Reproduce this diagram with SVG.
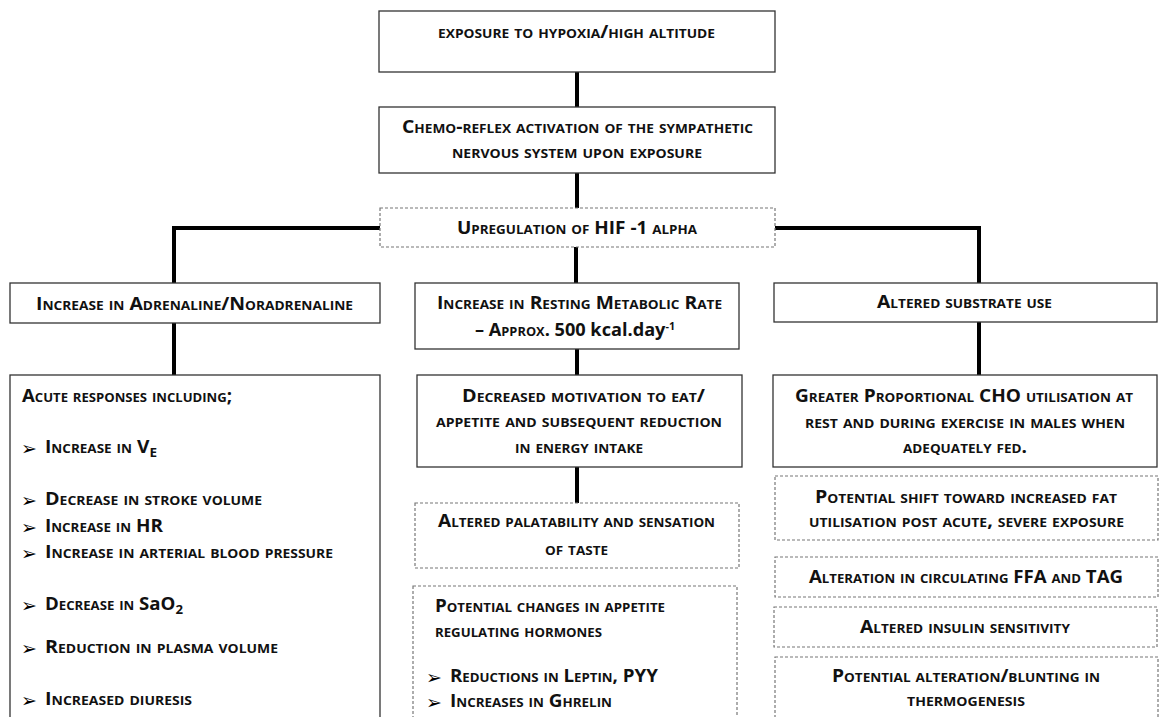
<svg xmlns="http://www.w3.org/2000/svg" width="1164" height="717" viewBox="0 0 1164 717">
<style>
.box{fill:#fff;stroke:#333;stroke-width:1.3}
.dbox{fill:#fff;stroke:#777;stroke-width:1.2;stroke-dasharray:3 2}
.conn{fill:none;stroke:#000;stroke-width:4}
text{font-family:"Open Sans","Liberation Sans",sans-serif;font-weight:bold;font-size:17px;fill:#111;font-variant:small-caps}
.c{text-anchor:middle}
.n{font-variant:normal}
.arr{font-family:"DejaVu Sans",sans-serif;font-size:19px;font-weight:bold;font-variant:normal;fill:#000}
</style>
<rect width="1164" height="717" fill="#fff"/>
<g id="connectors">
<path class="conn" d="M577 72V107"/>
<path class="conn" d="M577 173V208"/>
<path class="conn" d="M380 228H174V283"/>
<path class="conn" d="M576 247V283"/>
<path class="conn" d="M775 228H979V283"/>
<path class="conn" d="M174 323V375"/>
<path class="conn" d="M577 349V375"/>
<path class="conn" d="M979 322V375"/>
<path class="conn" d="M577 467V503"/>
</g>
<g id="n_exposure">
<rect class="box" x="379" y="11" width="396" height="61"/>
<text class="c" x="576.5" y="38" textLength="277" lengthAdjust="spacingAndGlyphs">exposure to hypoxia/high altitude</text>
</g>
<g id="n_chemo">
<rect class="box" x="379" y="107" width="396" height="66"/>
<text class="c" x="577.5" y="133" textLength="351" lengthAdjust="spacingAndGlyphs">Chemo-reflex activation of the sympathetic</text>
<text class="c" x="577" y="158" textLength="250" lengthAdjust="spacingAndGlyphs">nervous system upon exposure</text>
</g>
<g id="n_hif">
<rect class="dbox" x="380" y="208" width="395" height="39"/>
<text class="c" x="577" y="234" textLength="240" lengthAdjust="spacingAndGlyphs">Upregulation of HIF -1 alpha</text>
</g>
<g id="n_adrenaline">
<rect class="box" x="10" y="283" width="370" height="40"/>
<text class="c" x="194.5" y="310" textLength="317" lengthAdjust="spacingAndGlyphs">Increase in Adrenaline/Noradrenaline</text>
</g>
<g id="n_rmr">
<rect class="box" x="415" y="283" width="324" height="66"/>
<text class="c" x="579.5" y="309" textLength="285" lengthAdjust="spacingAndGlyphs">Increase in Resting Metabolic Rate</text>
<text x="475" y="336" textLength="200" lengthAdjust="spacingAndGlyphs">– Approx.<tspan class="n"> 500 kcal.day</tspan><tspan class="n" font-size="10" dy="-6">-1</tspan></text>
</g>
<g id="n_substrate">
<rect class="box" x="774" y="283" width="383" height="39"/>
<text class="c" x="964.5" y="308" textLength="175" lengthAdjust="spacingAndGlyphs">Altered substrate use</text>
</g>
<g id="n_acute">
<rect class="box" x="10" y="375" width="370" height="360"/>
<text x="22" y="402" textLength="210" lengthAdjust="spacingAndGlyphs">Acute responses including;</text>
<text class="arr" x="21" y="455">➢</text>
<text x="45" y="453" textLength="112" lengthAdjust="spacingAndGlyphs">Increase in V<tspan font-size="12" dy="4">E</tspan></text>
<text class="arr" x="21" y="507">➢</text>
<text x="45" y="505" textLength="217" lengthAdjust="spacingAndGlyphs">Decrease in stroke volume</text>
<text class="arr" x="21" y="534">➢</text>
<text x="45" y="532" textLength="118" lengthAdjust="spacingAndGlyphs">Increase in HR</text>
<text class="arr" x="21" y="560">➢</text>
<text x="45" y="558" textLength="288" lengthAdjust="spacingAndGlyphs">Increase in arterial blood pressure</text>
<text class="arr" x="21" y="612">➢</text>
<text x="45" y="610" textLength="138" lengthAdjust="spacingAndGlyphs">Decrease in <tspan class="n">SaO</tspan><tspan class="n" font-size="12" dy="4">2</tspan></text>
<text class="arr" x="21" y="655">➢</text>
<text x="45" y="653" textLength="233" lengthAdjust="spacingAndGlyphs">Reduction in plasma volume</text>
<text class="arr" x="21" y="707">➢</text>
<text x="45" y="705" textLength="147" lengthAdjust="spacingAndGlyphs">Increased diuresis</text>
</g>
<g id="n_motivation">
<rect class="box" x="417" y="375" width="325" height="92"/>
<text class="c" x="583.5" y="402" textLength="243" lengthAdjust="spacingAndGlyphs">Decreased motivation to eat/</text>
<text class="c" x="579" y="427" textLength="286" lengthAdjust="spacingAndGlyphs">appetite and subsequent reduction</text>
<text class="c" x="579" y="453" textLength="128" lengthAdjust="spacingAndGlyphs">in energy intake</text>
</g>
<g id="n_taste">
<rect class="dbox" x="415" y="503" width="324" height="65"/>
<text class="c" x="576.5" y="527" textLength="277" lengthAdjust="spacingAndGlyphs">Altered palatability and sensation</text>
<text class="c" x="576.5" y="555" textLength="63" lengthAdjust="spacingAndGlyphs">of taste</text>
</g>
<g id="n_hormones">
<rect class="dbox" x="413" y="586" width="324" height="150"/>
<text x="435" y="612" textLength="230" lengthAdjust="spacingAndGlyphs">Potential changes in appetite</text>
<text x="435" y="637" textLength="167" lengthAdjust="spacingAndGlyphs">regulating hormones</text>
<text class="arr" x="426" y="684">➢</text>
<text x="450" y="682" textLength="208" lengthAdjust="spacingAndGlyphs">Reductions in Leptin, PYY</text>
<text class="arr" x="426" y="709">➢</text>
<text x="450" y="707" textLength="162" lengthAdjust="spacingAndGlyphs">Increases in Ghrelin</text>
</g>
<g id="n_cho">
<rect class="box" x="773" y="375" width="384" height="92"/>
<text class="c" x="964" y="402" textLength="338" lengthAdjust="spacingAndGlyphs">Greater Proportional CHO utilisation at</text>
<text class="c" x="965" y="428" textLength="320" lengthAdjust="spacingAndGlyphs">rest and during exercise in males when</text>
<text class="c" x="965" y="453" textLength="124" lengthAdjust="spacingAndGlyphs">adequately fed.</text>
</g>
<g id="n_fatshift">
<rect class="dbox" x="775" y="476" width="383" height="64"/>
<text class="c" x="966" y="503" textLength="302" lengthAdjust="spacingAndGlyphs">Potential shift toward increased fat</text>
<text class="c" x="966.5" y="527" textLength="315" lengthAdjust="spacingAndGlyphs">utilisation post acute, severe exposure</text>
</g>
<g id="n_ffa">
<rect class="dbox" x="775" y="557" width="383" height="40"/>
<text class="c" x="966" y="583" textLength="314" lengthAdjust="spacingAndGlyphs">Alteration in circulating FFA and TAG</text>
</g>
<g id="n_insulin">
<rect class="dbox" x="774" y="607" width="383" height="40"/>
<text class="c" x="965" y="633" textLength="210" lengthAdjust="spacingAndGlyphs">Altered insulin sensitivity</text>
</g>
<g id="n_thermo">
<rect class="dbox" x="775" y="657" width="383" height="80"/>
<text class="c" x="966" y="682" textLength="268" lengthAdjust="spacingAndGlyphs">Potential alteration/blunting in</text>
<text class="c" x="966" y="706" textLength="118" lengthAdjust="spacingAndGlyphs">thermogenesis</text>
</g>
</svg>
